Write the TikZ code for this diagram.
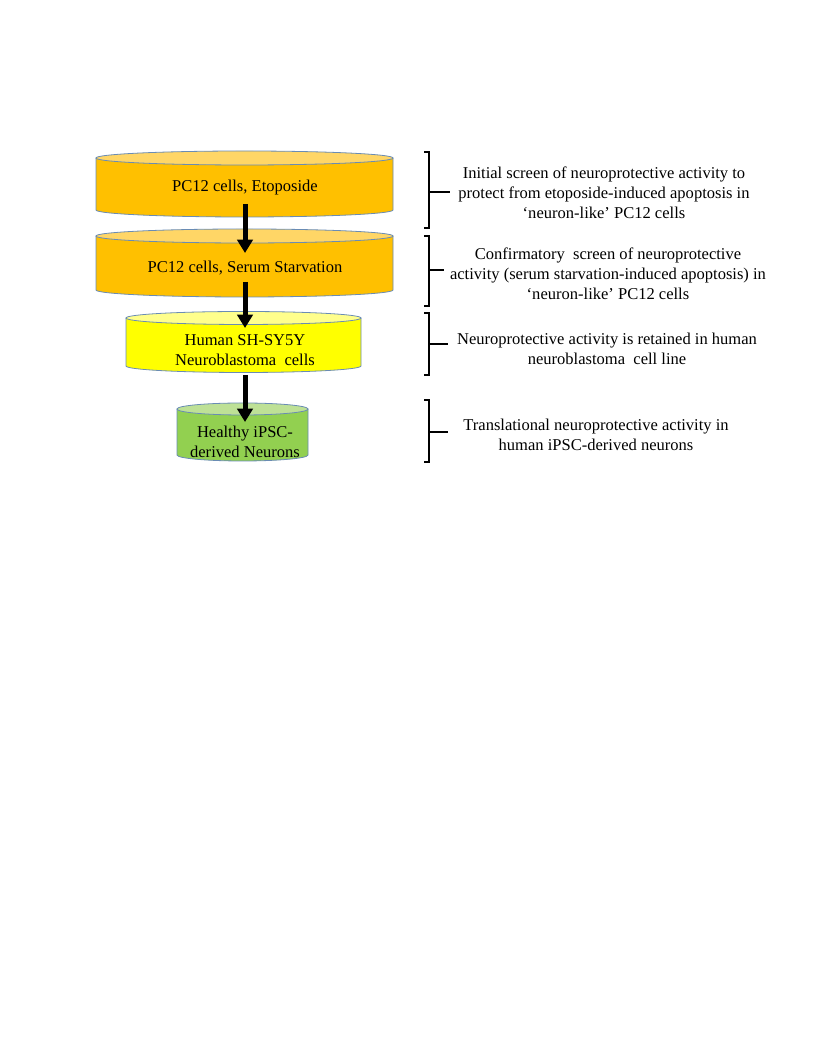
\documentclass[tikz,border=0pt]{standalone}
\usepackage{fontspec}
\setmainfont{Liberation Serif}
\usepackage{tikz}
\usetikzlibrary{arrows.meta}

\definecolor{gold}{HTML}{FFC000}
\definecolor{goldtop}{HTML}{FFD666}
\definecolor{lemon}{HTML}{FFFF00}
\definecolor{lemontop}{HTML}{FFFF8C}
\definecolor{leaf}{HTML}{92D050}
\definecolor{leaftop}{HTML}{BEE196}
\definecolor{rimblue}{HTML}{6A8CB4}

\begin{document}
\begin{tikzpicture}[x=0.75pt, y=0.75pt,
		every node/.style={font=\fontsize{12.4}{14.8}\selectfont, align=center, inner sep=0pt},
		rim/.style={draw=rimblue, line width=0.6pt},
		flow/.style={line width=3.75pt, -{Triangle[width=11.5pt, length=10pt]}},
		bracket/.style={line width=2pt}]
	\useasboundingbox (0,0) rectangle (816,1056);

	% the four dishes
	\foreach \xl/\xr/\yt/\yb/\ry/\cb/\ct in {96/393/898/846/7/gold/goldtop, 96/393/820/766/7/gold/goldtop, 126/361/738/690/6.5/lemon/lemontop, 177/308/647/601/6/leaf/leaftop}{
		\pgfmathsetmacro\rx{(\xr-\xl)/2}
		\pgfmathsetmacro\cx{(\xr+\xl)/2}
		\fill[\cb] (\xl,\yt) -- (\xl,\yb) arc[start angle=180, end angle=360, x radius=\rx, y radius=\ry] -- (\xr,\yt) -- cycle;
		\draw[rim] (\xl,\yt) -- (\xl,\yb) arc[start angle=180, end angle=360, x radius=\rx, y radius=\ry] -- (\xr,\yt);
		\filldraw[rim, fill=\ct] (\cx,\yt) ellipse[x radius=\rx, y radius=\ry];
	}

	\node (t1) at (245,868) {PC12 cells, Etoposide};
	\node (t2) at (245,788) {PC12 cells, Serum Starvation};
	\node (t3) at (245,706) {Human SH-SY5Y\\Neuroblastoma\ \ cells};
	\node (t4) at (245,614) {Healthy iPSC-\\derived Neurons};

	\draw [flow, shorten <=12pt, shorten >=11.25pt] (t1.center) -- (t2.center);
	\draw [flow, shorten <=10.5pt, shorten >=16.5pt] (t2.center) -- (t3.center);
	\draw [flow, shorten <=18.75pt, shorten >=15pt] (t3.center) -- (t4.center);

	% brackets and notes
	\draw [bracket] (424,904) -- (429,904) -- (429,828) -- (424,828);
	\draw [bracket] (429,864) -- (450,864);
	\draw [bracket] (424,820) -- (429,820) -- (429,750) -- (424,750);
	\draw [bracket] (429,786) -- (444,786);
	\draw [bracket] (424,743) -- (429,743) -- (429,681) -- (424,681);
	\draw [bracket] (429,712) -- (448,712);
	\draw [bracket] (424,656) -- (429,656) -- (429,594) -- (424,594);
	\draw [bracket] (429,624) -- (448,624);

	\node (n1) at (604,863) {Initial screen of neuroprotective activity to\\protect from etoposide-induced apoptosis in\\`neuron-like' PC12 cells};
	\node (n2) at (608,782) {Confirmatory\ \ screen of neuroprotective\\activity (serum starvation-induced apoptosis)\ in\\`neuron-like' PC12 cells};
	\node (n3) at (607,707) {Neuroprotective activity is retained in human\\neuroblastoma\ \ cell line};
	\node (n4) at (596,621) {Translational neuroprotective activity in\\human iPSC-derived neurons};
\end{tikzpicture}
\end{document}
